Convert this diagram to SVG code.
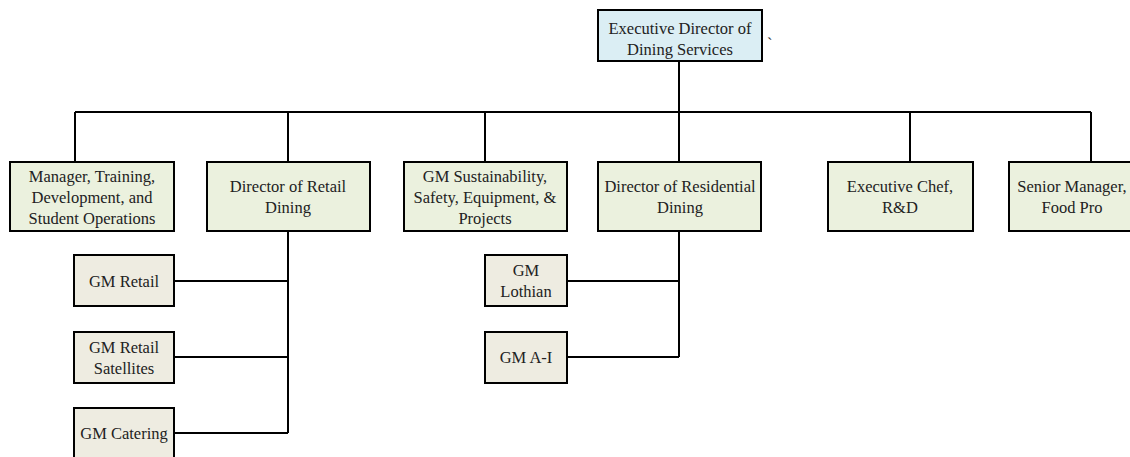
<svg xmlns="http://www.w3.org/2000/svg" width="1130" height="457" viewBox="0 0 1130 457">
<style>
.box{stroke:#000;stroke-width:2}
.top{fill:#DBEEF4}
.l2{fill:#EBF1DE}
.l3{fill:#EEECE1}
text{font-family:"Liberation Serif","Times New Roman",serif;font-size:16.5px;fill:#222;text-anchor:middle}
.conn{fill:none;stroke:#000;stroke-width:2}
</style>
<rect width="1130" height="457" fill="#fff"/>
<g id="connectors">
<path class="conn" d="M679 61V112M75 112H1091M75 112V162M288 112V162M485 112V162M679 112V162M910 112V162M1091 112V162"/>
<path class="conn" d="M288 231V433M174 281H288M174 357H288M174 433H288"/>
<path class="conn" d="M679 231V357M567 281H679M567 357H679"/>
</g>
<g id="exec">
<rect class="box top" x="598" y="10" width="164" height="51"/>
<text x="680" y="34">Executive Director of</text>
<text x="680" y="55">Dining Services</text>
<text x="767" y="49" style="text-anchor:start">`</text>
</g>
<g id="mgr-training">
<rect class="box l2" x="10" y="162" width="164" height="69"/>
<text x="92" y="182">Manager, Training,</text>
<text x="92" y="203">Development, and</text>
<text x="92" y="224">Student Operations</text>
</g>
<g id="dir-retail">
<rect class="box l2" x="207" y="162" width="163" height="69"/>
<text x="288" y="192">Director of Retail</text>
<text x="288" y="213">Dining</text>
</g>
<g id="gm-sustain">
<rect class="box l2" x="404" y="162" width="163" height="69"/>
<text x="485" y="182">GM Sustainability,</text>
<text x="485" y="203">Safety, Equipment, &amp;</text>
<text x="485" y="224">Projects</text>
</g>
<g id="dir-residential">
<rect class="box l2" x="598" y="162" width="163" height="69"/>
<text x="680" y="192">Director of Residential</text>
<text x="680" y="213">Dining</text>
</g>
<g id="exec-chef">
<rect class="box l2" x="828" y="162" width="145" height="69"/>
<text x="900" y="192">Executive Chef,</text>
<text x="900" y="213">R&amp;D</text>
</g>
<g id="senior-mgr">
<rect class="box l2" x="1009" y="162" width="126" height="69"/>
<text x="1072" y="192">Senior Manager,</text>
<text x="1072" y="213">Food Pro</text>
</g>
<g id="gm-retail">
<rect class="box l3" x="74" y="255" width="100" height="51"/>
<text x="124" y="287">GM Retail</text>
</g>
<g id="gm-retail-sat">
<rect class="box l3" x="74" y="332" width="100" height="51"/>
<text x="124" y="353">GM Retail</text>
<text x="124" y="374">Satellites</text>
</g>
<g id="gm-catering">
<rect class="box l3" x="74" y="408" width="100" height="52"/>
<text x="124" y="439">GM Catering</text>
</g>
<g id="gm-lothian">
<rect class="box l3" x="485" y="255" width="82" height="51"/>
<text x="526" y="276">GM</text>
<text x="526" y="297">Lothian</text>
</g>
<g id="gm-ai">
<rect class="box l3" x="485" y="332" width="82" height="51"/>
<text x="526" y="363">GM A-I</text>
</g>
</svg>
